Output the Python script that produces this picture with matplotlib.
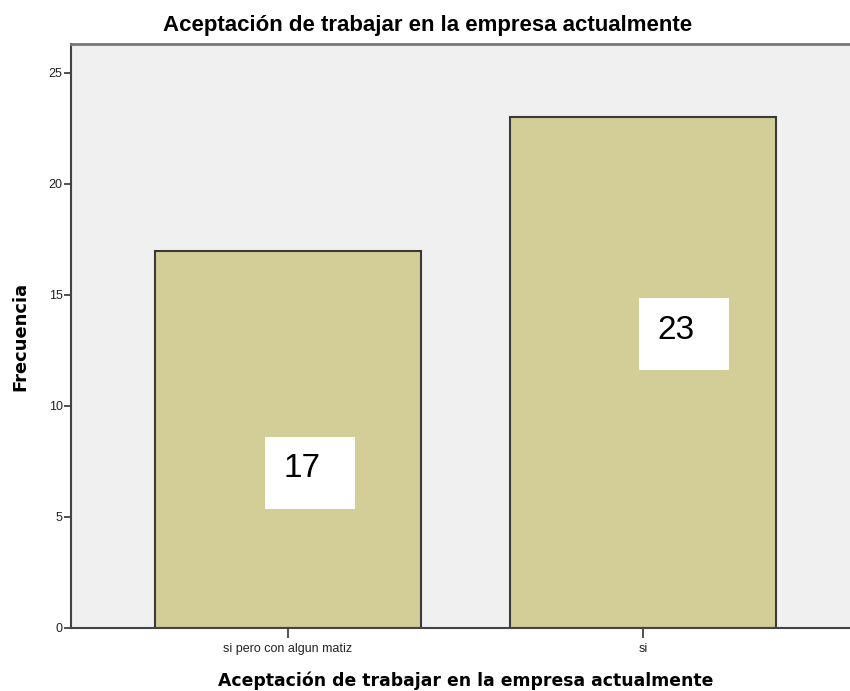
import matplotlib
matplotlib.use('Agg')
import matplotlib.pyplot as plt
from matplotlib.patches import Rectangle

categories = ['si pero con algun matiz', 'si']
frecuencia = [17, 23]
yticks = [0, 5, 10, 15, 20, 25]

titulo = 'Aceptación de trabajar en la empresa actualmente'

fig = plt.figure(figsize=(8.5, 6.91), dpi=100)
ax = fig.add_axes([71/850, 63/691, 789/850, 584/691])
ax.set_facecolor('#F0F0F0')

x = list(range(len(categories)))
ax.bar(x, frecuencia, width=0.75, color='#D3CE98', edgecolor='#3A3A3A', linewidth=1.5, zorder=2)

# etiquetas en cajas blancas (posiciones como en el original)
box_dx = [-0.065, -0.011]
box_y0 = [5.36, 11.62]
txt_dx = [0.039, 0.093]
txt_y = [7.20, 13.41]
for i, v in enumerate(frecuencia):
    ax.add_patch(Rectangle((x[i] + box_dx[i], box_y0[i]), 0.254, 3.24,
                           facecolor='white', edgecolor='none', zorder=3))
    ax.text(x[i] + txt_dx[i], txt_y[i], str(v), fontsize=24, family='Liberation Sans',
            ha='center', va='center', zorder=4)

ax.set_xlim(-0.611, 1.611)
ax.set_ylim(0, 26.3)
ax.set_xticks(x)
ax.set_xticklabels(categories, fontsize=9, family='Liberation Sans', color='#222222')
ax.set_yticks(yticks)
ax.set_yticklabels([str(t) for t in yticks], fontsize=9, family='Liberation Sans', color='#222222')
ax.tick_params(axis='x', length=7, width=1.2, color='#333333', pad=4)
ax.tick_params(axis='y', length=5, width=1.2, color='#333333', pad=1)

for side in ['left', 'bottom']:
    ax.spines[side].set_color('#444444')
    ax.spines[side].set_linewidth(1.5)
for side in ['top', 'right']:
    ax.spines[side].set_color('#777777')
    ax.spines[side].set_linewidth(2)

fig.text(428/850, 1 - 26/691, titulo, fontsize=16, fontweight='bold',
         family='Liberation Sans', ha='center', va='center')
ax.set_xlabel(titulo, fontsize=12.4, fontweight='bold', family='DejaVu Sans', labelpad=12)
ax.set_ylabel('Frecuencia', fontsize=12.9, fontweight='bold', family='DejaVu Sans', labelpad=14)

fig.savefig('out.png', dpi=100)
